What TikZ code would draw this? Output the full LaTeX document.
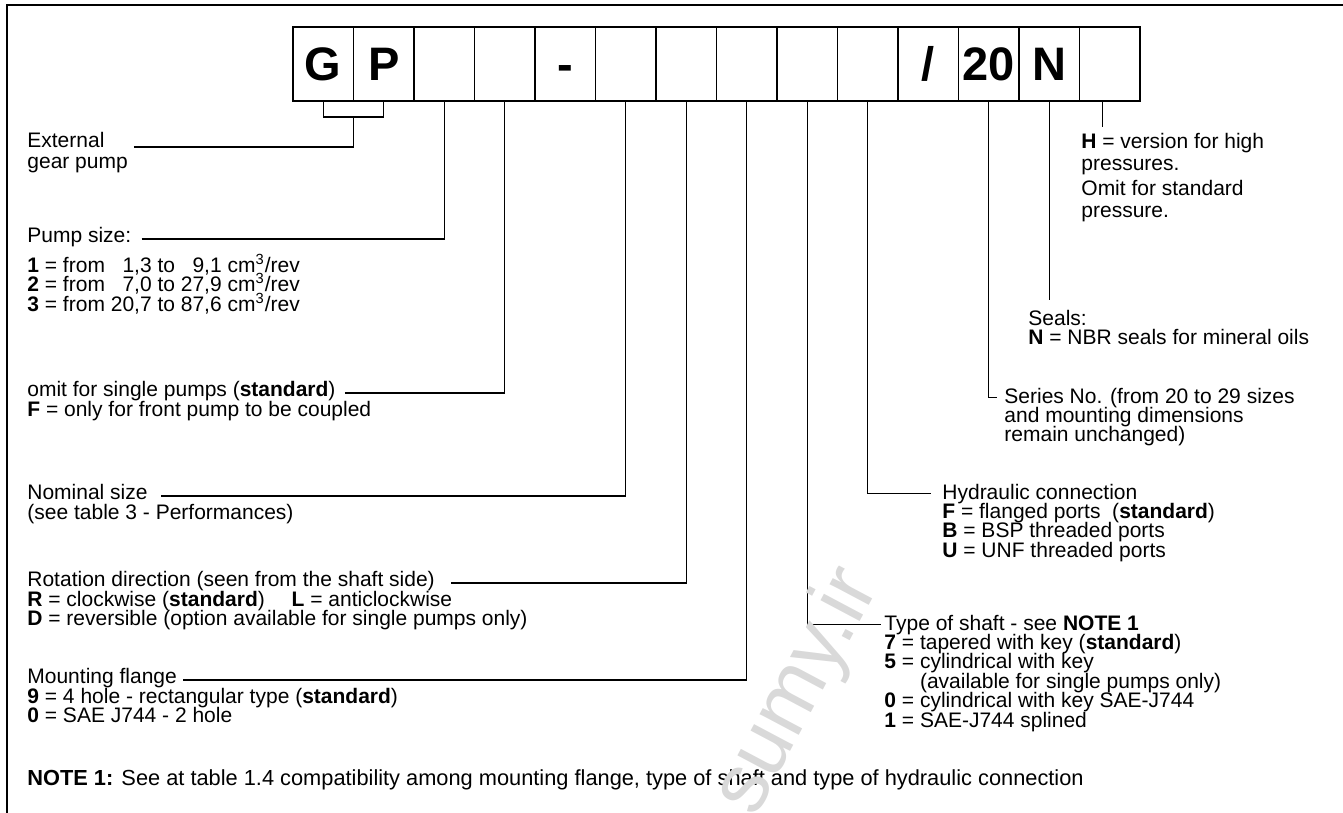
\documentclass[tikz,border=0pt]{standalone}
\usepackage{fontspec}
\setmainfont{Liberation Sans}
\usetikzlibrary{positioning,calc}

\begin{document}
\begin{tikzpicture}[
    x=0.5pt, y=-0.5pt,
    frame/.style={line width=0.8pt},
    codebox/.style={draw, line width=0.7pt, minimum width=30.25pt,
                    minimum height=37pt, inner sep=0pt, outer sep=0pt,
                    text height=17pt, text depth=0pt,
                    font=\fontsize{23.5}{23.5}\selectfont\bfseries},
    leader/.style={line width=0.65pt},
    lbl/.style={anchor=base west, inner sep=0pt, align=left,
                font={\fontsize{10.5}{9.75}\selectfont\lineskiplimit=-\maxdimen}},
    wmark/.style={gray!30, font=\fontsize{42}{42}\selectfont, rotate=62}
]
\useasboundingbox (0,0) rectangle (1343,813);

% =========================================================
% FRAME (only top and left edges are visible)
% =========================================================
\draw[frame] (7,813) -- (7,5) -- (1343,5);

% =========================================================
% CODE BOXES: G P _ _ - _ _ _ _ _ / 20 N _
% =========================================================
\node[codebox] (b1) at (323.25,64) {G};
\node[codebox, right=0pt of b1] (b2) {P};
\node[codebox, right=0pt of b2] (b3) {};
\node[codebox, right=0pt of b3] (b4) {};
\node[codebox, right=0pt of b4] (b5) {-};
\node[codebox, right=0pt of b5] (b6) {};
\node[codebox, right=0pt of b6] (b7) {};
\node[codebox, right=0pt of b7] (b8) {};
\node[codebox, right=0pt of b8] (b9) {};
\node[codebox, right=0pt of b9] (b10) {};
\node[codebox, right=0pt of b10] (b11) {/};
\node[codebox, right=0pt of b11] (b12) {20};
\node[codebox, right=0pt of b12] (b13) {N};
\node[codebox, right=0pt of b13] (b14) {};

% =========================================================
% LEFT COLUMN (multi-line nodes sit on their last baseline)
% =========================================================
\node[lbl] (ext)  at (27,148) {External};
\node[lbl] (extb) at (27,169) {gear pump};

\node[lbl] (pump)  at (27,242) {Pump size:};
\node[lbl] (pumpb) at (27,311) {\textbf{1} = from \hphantom{2}1,3 to \hphantom{2}9,1 cm\textsuperscript{3}/rev\\
                                \textbf{2} = from \hphantom{2}7,0 to 27,9 cm\textsuperscript{3}/rev\\
                                \textbf{3} = from 20,7 to 87,6 cm\textsuperscript{3}/rev};

\node[lbl] (omit)  at (27,396) {omit for single pumps (\textbf{standard})};
\node[lbl] (omitb) at (27,416) {\textbf{F} = only for front pump to be coupled};

\node[lbl] (nom)  at (27,499) {Nominal size};
\node[lbl] (nomb) at (27,519) {(see table 3 - Performances)};

\node[lbl] (rot)  at (27,586) {Rotation direction (seen from the shaft side)};
\node[lbl] (rotb) at (27,625.5) {\textbf{R} = clockwise (\textbf{standard})\quad\ \textbf{L} = anticlockwise\\
                                 \textbf{D} = reversible (option available for single pumps only)};

\node[lbl] (mnt)  at (27,683) {Mounting flange};
\node[lbl] (mntb) at (27,722.5) {\textbf{9} = 4 hole - rectangular type (\textbf{standard})\\
                                 \textbf{0} = SAE J744 - 2 hole};

\node[lbl, font=\fontsize{10.9}{12}\selectfont] (note) at (27,785)
      {\textbf{NOTE 1:} See at table 1.4 compatibility among mounting flange, type of shaft and type of hydraulic connection};

% =========================================================
% RIGHT COLUMN
% =========================================================
\node[lbl, font={\fontsize{10.5}{11.25}\selectfont\lineskiplimit=-\maxdimen}] (hnote) at (1081,217.5)
      {\textbf{H} = version for high\\ pressures.\\[1pt] Omit for standard\\ pressure.};

\node[lbl] (seals)  at (1028,325) {Seals:};
\node[lbl] (sealsb) at (1028,344) {\textbf{N} = NBR seals for mineral oils};

\node[lbl] (series)  at (1004,403) {Series No. (from 20 to 29 sizes};
\node[lbl] (seriesb) at (1004,441.5) {and mounting dimensions\\ remain unchanged)};

\node[lbl] (hydr)  at (942,499) {Hydraulic connection};
\node[lbl] (hydrb) at (942,557) {\textbf{F} = flanged ports\ \ (\textbf{standard})\\
                                 \textbf{B} = BSP threaded ports\\
                                 \textbf{U} = UNF threaded ports};

\node[lbl] (shaft)  at (884,630) {Type of shaft - see \textbf{NOTE 1}};
\node[lbl] (shaftb) at (884,727) {\textbf{7} = tapered with key (\textbf{standard})\\
                                  \textbf{5} = cylindrical with key\\
                                  \hphantom{\textbf{5} = }(available for single pumps only)\\
                                  \textbf{0} = cylindrical with key SAE-J744\\
                                  \textbf{1} = SAE-J744 splined};

% =========================================================
% LEADER LINES
% =========================================================
% bracket under G and P
\draw[leader] (b1.south) -- ++(0,16) -| (b2.south);
\draw[leader] ([xshift=14.5pt,yshift=0.5pt]ext.base east) -| ([yshift=-8pt]b1.south east);

% left column, hooked from the end of each first line
\draw[leader] ([xshift=5pt,yshift=1.5pt]pump.base east) -| (b3.south);
\draw[leader] ([xshift=4.5pt,yshift=1.5pt]omit.base east) -| (b4.south);
\draw[leader] ([xshift=6.5pt,yshift=1.5pt]nom.base east) -| (b6.south);
\draw[leader] ([xshift=8pt,yshift=1.5pt]rot.base east) -| (b7.south);
\draw[leader] ([xshift=3pt,yshift=1.5pt]mnt.base east) -| (b8.south);

% right column
\draw[leader] (b9.south) |- ([xshift=-1.5pt]shaft.west);
\draw[leader] (b10.south) |- ([xshift=-5.5pt]hydr.west);
\draw[leader] (b12.south) |- ([xshift=-3.5pt]series.west);
\draw[leader] (b13.south) -- ($(seals.north -| b13.south)+(0,-9)$);
\draw[leader] ($(b14.south)+(-7,0)$) -- ($(b14.south)+(-7,26)$);

% watermark
\node[wmark] (wm) at (798,692) {sumy.ir};

\end{tikzpicture}
\end{document}
